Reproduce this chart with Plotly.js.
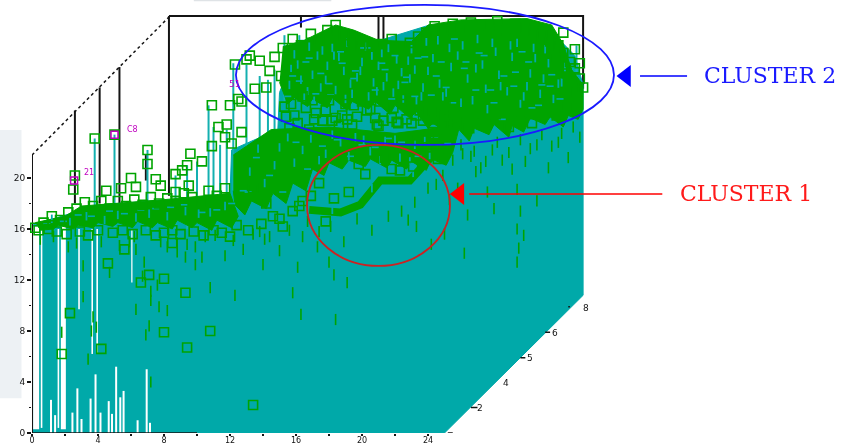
<!DOCTYPE html>
<html><head><meta charset="utf-8">
<script src="https://cdn.plot.ly/plotly-3.0.1.min.js"></script>
<style>html,body{margin:0;padding:0;background:#fff;overflow:hidden}#chart{width:841px;height:446px;filter:blur(0.4px)}</style>
</head><body><div id="chart"></div>
<script>
const xTicks=[0,4,8,12,16,20,24];
const zTicks=[0,4,8,12,16,20];
const minorX=[2,6,10,14,18,22];
const minorZ=[2,6,10,14,18];
const depthLabels=["0","2","4","5","6","8"];
const depthLabelX=[25.76,27.15,28.7,30.2,31.7,33.6];
const depthLabelZ=[-0.08,1.96,3.9,5.9,7.85,9.8];
const depthTickX=[25.2,25.5,null,26.6,27,null,29.6,29.9,null,31.1,31.4,null,32.5,32.6];
const depthTickZ=[0,0,null,2,2,null,5.9,5.9,null,7.9,7.9,null,9.9,9.9];

// teal silhouette of the stems
const massX=[0,25,33.4,33.4,32.9,32,30.2,24.1,21.1,16.2,15,14.9,12.1,12,8.4,4.1,0,0];
const massZ=[0,0,10.8,27.3,29.6,30.8,32,32,30.8,30.8,26.7,23.8,22.2,18.7,18.3,17.9,16.3,0];

// white gaps between stems
const gapSixX=[0.25,0.25];
const gapSixZ=[16.2,0.3];
const gapFiveX=[1.9,1.9];
const gapFiveZ=[16.2,0.3];
const gapThinX=[0.58,0.58,null,1.6,1.6,null,2.85,2.85,null,3.65,3.65,null,3.95,3.95];
const gapThinZ=[16,0.4,null,16,0.4,null,16,9.7,null,16,6.2,null,16,6.2];
const gapPaleX=[6.05,6.05];
const gapPaleZ=[16,11.8];
const spikeX=[1.15,1.15,null,1.4,1.4,null,2.45,2.45,null,2.75,2.75,null,3.0,3.0,null,3.55,3.55,null,3.85,3.85,null,4.15,4.15,null,4.65,4.65,null,4.85,4.85,null,5.1,5.1,null,5.35,5.35,null,5.55,5.55,null,6.4,6.4,null,6.95,6.95,null,7.15,7.15];
const spikeZ=[0,2.6,null,0,1.4,null,0,1.6,null,0,3.5,null,0,1.1,null,0,2.7,null,0,4.6,null,0,1.6,null,0,2.5,null,0,1.5,null,0,5.2,null,0,2.8,null,0,3.3,null,0,1.0,null,0,5.0,null,0,0.8];

// isolated stems reaching above the mass
const stemX=[3.8,5.0,7.0,9.4,8.7,10.7,11.0,11.8,12.2,13.0,13.8,14.3,14.7,15.3,16.2,33.0,11.4,10.0];
const stemTop=[23.1,23.4,22.2,21.0,20.2,25.7,24.0,23.8,29.0,28.9,28.0,27.7,28.5,31.2,31.2,30.4,22.6,21.3];
const stemBase=[16,16,16,16,16,17,17,17,19,22,22,22,22,26,26,27,17,17];

// dense green zones
const denseAX=[15.2,16.5,18.4,19.5,21,23,24,26,30,31.5,32.2,32.7,33.4,33.4,33.1,32.5,32.2,31.4,31.1,30.2,29.8,29.1,28.9,28,27.7,26.8,26.5,25.6,25.2,24.3,24,23.3,22.9,22,21.7,20.8,20.4,19.4,19.1,18.2,17.9,17,16.7,15.9,15.5,15];
const denseAZ=[30.3,30.8,32,31.6,30.8,30.7,32,32.4,32.5,32,30.5,28.5,27.3,25.4,24.6,24.9,24,24.8,24.2,24.7,23.6,24.1,23.2,24.2,23.4,23.9,22.9,24.2,23.5,24.3,23.9,25.2,24.7,25.7,25,26,25.4,26,25.3,26.3,25.5,26.2,25.6,26.3,25.8,27.5];
const denseBX=[12.2,14.5,18,22,25,26,25.5,25.1,24.2,23.9,23,22.7,21.8,21.5,20.5,20.2,19.2,18.8,18,17.7,17,16.6,15.8,15.4,14.6,14.2,13.3,12.9,12.3,12.2];
const denseBZ=[21.8,23.8,24,23.5,24,24.5,22,21,21.5,20.6,21.3,20.7,21.4,20.8,21.5,20.9,21.4,20.7,21.2,20.2,20.7,19,19.6,18,18.8,17.6,18.2,17.1,17.9,19];
const ridgeX=[0.2,2,3,5,8,12,12.5,12.1,11.2,10.9,10,9.7,8.8,8.5,7.6,7.3,6.4,6.1,5.2,4.9,4,3.7,2.8,2.5,1.6,1.3,0.5];
const ridgeZ=[16.5,17,17.8,18,18.3,18.8,17,16.1,16.7,15.9,16.5,16.1,16.7,16,16.5,16.1,16.6,16.1,16.5,16.2,16.5,16.1,16.3,16,16.3,16,15.9];
const curveX=[16.8,18.7,19.9,21.1,22.9,23.8,24.8];
const curveZ=[17.5,17.3,17.9,19.8,19.8,21,22.5];

// teal showing through the dense green
const holeX=[
15.6,16.1,16.7,17.3,17.8,18.2,18.9,19.4,20.0,20.7,
21.2,21.9,22.4,23.0,23.7,24.3,24.9,25.4,26.1,26.7,
27.3,27.9,28.4,29.1,29.6,30.2,30.8,31.3,31.9,32.3,
15.9,16.5,17.0,17.6,18.4,19.1,19.7,20.4,21.0,21.6,
22.2,22.8,23.3,24.0,24.6,25.1,25.8,26.4,27.0,27.6,
28.1,28.8,29.4,30.0,30.5,31.1,31.6,32.1,16.3,17.1,
17.9,18.6,19.3,20.2,20.9,21.5,22.5,23.2,23.9,24.7,
25.3,26.0,26.9,27.5,28.3,29.0,29.8,30.4,31.0,15.7,
16.8,17.5,18.3,19.0,19.9,20.6,21.3,22.1,22.9,23.6,
13.2,14.1,15.0,15.9,16.9,17.8,18.7,19.6,20.5,21.4,
22.3,23.2,24.1,13.7,14.7,15.5,16.4,17.4,18.2,19.2,
20.1,21.1,22.0,22.9,23.8,1.2,3.3,5.2,7.1,9.3,
10.8,11.7,2.3,4.4,6.3,8.2,10.1,18.2,19.4,20.6,
21.7,23.1];
const holeZ=[
27.3,28.9,26.8,29.6,27.7,30.2,28.4,26.6,29.1,27.5,
29.8,26.7,28.3,30.1,27.1,29.4,26.4,28.7,30.4,26.1,
28.9,30.6,27.2,29.5,25.8,28.2,26.6,29.0,27.4,28.7,
29.7,26.3,28.1,30.0,26.9,30.6,27.9,26.4,28.8,30.2,
27.3,29.2,26.1,28.4,30.8,26.7,29.6,27.8,30.9,25.4,
29.9,26.8,30.6,27.2,29.4,30.1,26.2,27.5,27.7,26.2,
28.8,29.5,27.4,30.3,26.8,27.9,26.2,28.5,30.7,27.4,
30.2,25.9,28.6,27.0,28.1,30.4,26.4,30.2,27.8,28.6,
30.3,27.1,29.6,26.2,28.4,29.6,27.2,29.3,27.8,26.4,
20.5,19.6,22.4,21.2,23.1,21.9,22.8,23.2,22.1,22.9,
21.6,22.6,21.8,22.3,21.0,23.2,22.2,21.4,23.4,21.7,
23.0,21.4,23.0,21.3,22.9,16.8,17.0,17.1,17.2,17.4,
17.3,17.8,16.6,16.7,16.9,17.0,17.2,17.5,18.6,19.2,
19.1,20.4];
// small teal flecks in the green
const fleckX=[
15.5,16.2,16.8,17.5,18.1,18.7,19.5,20.1,20.8,21.4,
22.0,22.6,23.2,23.8,24.5,25.1,25.6,26.3,26.9,27.4,
28.0,28.6,29.2,29.7,30.3,30.9,31.5,32.0,15.8,16.6,
17.2,18.0,18.8,19.6,20.3,21.2,21.8,22.7,23.4,24.2,
24.8,25.5,26.2,27.1,27.8,28.5,29.3,30.1,30.7,31.4,
12.8,13.6,14.4,15.2,16.0,16.7,17.6,18.5,19.3,20.0,
20.8,21.6,22.4,23.4,24.4,25.2,0.9,1.9,2.8,3.6,
4.7,5.6,6.6,7.5,8.4,9.2,10.3,11.2,12.1,13.1];
const fleckZ=[
26.4,27.6,29.4,28.2,26.5,29.9,27.8,30.2,26.9,28.5,
29.6,27.5,26.4,29.5,28.0,27.1,30.9,29.1,26.9,29.6,
25.9,28.0,27.2,29.9,25.5,27.3,28.1,26.2,28.0,29.1,
26.6,27.4,29.0,28.4,30.2,29.0,26.2,27.9,29.4,26.5,
29.1,25.9,28.6,29.8,26.9,24.6,28.3,29.1,25.7,27.2,
19.0,21.6,20.2,18.9,22.8,20.7,22.5,23.0,21.7,22.6,
22.4,23.1,22.8,21.7,23.2,22.7,16.4,16.6,17.1,17.0,
17.4,17.2,17.5,17.6,17.7,17.9,17.3,17.5,18.0,18.9];

// green squares: around the clusters and along the ridge
const squareX=[
15.2,15.8,16.3,16.9,17.4,17.9,18.4,18.9,19.4,19.9,
20.6,21.2,21.8,22.3,22.9,23.4,23.9,24.4,24.9,25.5,
26.0,26.6,27.1,27.7,28.2,28.8,29.3,29.9,30.4,30.9,
31.4,31.9,32.2,32.6,32.9,33.2,32.4,31.7,33.4,33.0,
32.2,32.9,33.2,15.7,16.4,17.2,18.0,18.8,19.5,20.3,
21.1,21.8,22.5,23.3,24.2,25.0,25.7,26.5,27.3,28.1,
28.9,29.6,30.3,31.1,31.8,32.5,15.4,17.6,19.1,20.8,
22.1,23.7,25.3,12.3,13.0,12.7,13.8,14.4,14.7,13.2,
12.0,12.5,13.5,14.2,15.1,15.7,11.3,11.8,10.9,11.7,
12.1,12.7,9.4,9.6,8.7,9.1,9.5,10.3,10.9,
0.2,0.7,1.2,1.7,2.2,2.7,3.2,3.7,4.2,4.7,
5.2,5.7,6.2,6.7,7.2,7.7,8.2,8.7,9.2,9.7,
10.2,10.7,11.2,11.7,3.8,5.0,7.0,7.0,2.6,2.5,
6.0,6.3,7.5,7.8,8.7,5.4,4.5,
17.4,18.3,19.2,20.2,21.4,22.3,23.1,24.0,24.6,19.8,
21.8,16.2,16.9,17.8,23.4,24.3,
15.3,15.9,16.6,17.1,17.8,18.4,19.0,19.7,20.5,21.3,
21.9,22.7,23.5,24.3,24.9,25.6,16.1,17.0,18.6,20.0,
20.9,22.4,23.0,24.6,15.6,16.8,18.2,19.4,21.0,22.2,
0.4,1.0,1.5,2.1,2.9,3.4,4.0,4.9,5.5,6.1,
6.9,7.5,8.0,8.5,9.0,9.8,10.4,11.0,11.5,12.0,
12.4,13.1,13.9,14.6,15.2,15.8,16.4,13.4,14.2,15.0];
const squareZ=[
30.2,30.9,30.4,31.3,30.8,31.6,32.0,31.2,30.7,30.4,
30.3,30.5,30.9,30.2,30.6,31.1,31.4,31.9,31.6,32.1,
31.7,32.2,31.8,32.0,32.3,31.6,32.1,31.8,31.5,31.2,
30.7,30.4,29.8,29.1,28.6,27.8,28.2,29.4,27.1,26.8,
31.4,30.1,29.0,25.8,26.4,25.1,26.1,24.9,25.7,25.3,
26.0,24.7,25.8,24.9,25.2,25.0,24.3,23.9,24.4,25.0,
24.0,25.1,24.3,25.1,24.9,25.6,24.8,24.5,24.6,24.7,
24.4,24.5,24.7,28.9,29.3,26.0,29.2,28.4,29.5,29.6,
25.7,26.2,27.0,27.1,28.0,28.6,24.0,24.2,25.7,23.2,
22.7,23.6,21.0,21.9,20.3,20.6,19.4,21.3,22.5,
16.1,16.5,17.0,16.7,17.3,17.6,18.1,17.8,18.2,17.6,
18.2,17.8,18.3,17.9,18.5,18.0,18.4,18.2,18.8,18.5,
18.1,19.0,18.6,19.2,23.1,23.4,22.2,21.1,20.2,19.1,
20.0,19.3,19.9,19.4,18.9,19.2,19.0,
19.6,18.4,18.9,20.3,21.6,20.6,20.9,22.4,21.5,21.1,
20.7,17.8,18.6,16.6,22.9,23.6,
25.6,24.9,25.5,24.6,25.3,24.7,25.8,24.8,25.4,24.5,
25.5,24.6,25.3,24.6,24.2,25.7,24.3,26.1,24.1,26.0,
24.2,26.2,24.3,23.1,23.9,23.8,24.5,24.2,24.1,24.3,
15.9,16.0,15.8,15.6,15.8,15.5,15.9,15.7,15.9,15.6,
15.9,15.5,15.7,15.9,15.6,15.8,15.5,15.9,15.7,15.4,
16.3,15.9,16.4,17.0,16.2,17.4,18.2,19.2,18.0,16.8];

// low, half-hidden green marks beneath the ridge and clusters
const dropX=[
0.5,1.3,1.8,2.2,2.7,3.1,3.6,4.2,4.7,5.3,
5.9,6.3,6.8,7.2,7.7,8.2,8.8,9.4,9.9,10.5,
11.1,11.7,12.2,12.8,13.4,14.0,14.4,15.0,15.6,16.1,
6.7,7.2,7.6,8.2,7.1,6.3,6.9,3.1,3.7,3.9,
3.4,7.2,6.2,7.8,8.8,9.3,9.9,10.3,10.8,12.3,
13.8,14.1,15.8,16.3,16.4,17.3,18.0,18.3,18.4,19.1,
26.0,26.6,27.2,27.9,28.5,29.1,29.4,29.9,30.6,31.3,
31.9,32.5,29.4,29.6,24.5,25.3,25.8,26.4,26.9,27.6,
29.5,29.8,29.4,28.0,30.6,24.2,23.3,22.8,25.0,26.2,
24.0,24.9,25.5,26.1,26.8,27.5,28.2,28.9,29.6,30.2,
30.9,31.5,32.1,32.8,33.2,16.7,17.4,18.1,18.9,19.7,
20.6,21.6,22.4,23.2];
const dropZ=[
15.2,15.4,7.9,14.6,14.9,13.1,8.0,15.0,12.6,14.7,
15.0,14.4,13.4,11.1,9.9,14.6,14.9,14.8,13.2,15.4,
15.5,13.9,15.1,14.4,15.6,13.2,15.4,14.3,15.9,13.0,
12.3,10.4,11.6,9.6,8.4,9.7,7.7,10.7,9.1,8.3,
5.8,4.0,15.4,15.0,14.2,13.8,14.6,13.8,11.4,10.8,
15.8,15.2,11.0,9.3,15.4,14.6,13.4,12.4,8.9,11.8,
22.6,21.7,20.8,22.2,21.4,20.7,19.1,21.3,22.6,20.8,
22.8,21.6,16.0,17.4,19.5,18.3,19.2,17.1,20.5,18.9,
14.5,15.5,13.4,17.6,18.2,14.8,16.2,16.7,15.6,14.1,
19.2,20.2,21.4,21.9,22.1,21.3,22.8,22.0,23.0,22.3,
23.4,22.5,23.5,24.0,23.2,16.6,15.8,16.2,15.0,16.8,
15.9,17.0,17.4,18.1];

// squares that stand alone inside the teal
const loneX=[13.4,9.4,6.6,8.0,4.6,1.8,9.3,8.0,10.8,7.1,8.5,5.6,2.3,4.2];
const loneZ=[2.2,6.7,11.8,12.1,13.3,6.2,11.0,7.9,8.0,12.4,14.9,14.4,9.4,6.6];

// black lines of the box
const frameX=[8.3,33.4,33.4];
const frameZ=[32.7,32.7,27];
const wallX=[2.6,2.6,null,4.1,4.1,null,5.3,5.3,null,6.9,6.9,null,8.3,8.3,null,16.3,16.3,null,21,21,null,21.3,21.3];
const wallZ=[25.3,18,null,27.1,18,null,28.7,18,null,21.8,19.8,null,32.7,18.6,null,32.7,31.8,null,32.7,30.4,null,32.7,30.4];
const slopeX=[0,8.36];
const slopeZ=[21.8,32.7];

const teal='#00a9a9', green='#00a400', black='#141414', magenta='#c000c0';

function lineTrace(x,y,color,width,extra){
  return Object.assign({type:'scatter',mode:'lines',x:x,y:y,line:{color:color,width:width},cliponaxis:false,connectgaps:false,hoverinfo:'skip',showlegend:false},extra||{});
}
function polyTrace(x,y,color){
  return {type:'scatter',mode:'lines',x:x,y:y,fill:'toself',fillcolor:color,line:{color:color,width:1},hoverinfo:'skip',showlegend:false};
}
function markTrace(x,y,symbol,color,size,width){
  return {type:'scatter',mode:'markers',x:x,y:y,cliponaxis:false,hoverinfo:'skip',showlegend:false,
    marker:{symbol:symbol,size:size,color:color,line:{color:color,width:width}}};
}
const stemLineX=[],stemLineZ=[];
stemX.forEach((v,i)=>{stemLineX.push(v,v,null);stemLineZ.push(stemTop[i],stemBase[i],null);});

const data=[
  lineTrace(wallX,wallZ,black,2),
  lineTrace(frameX,frameZ,black,2),
  lineTrace(slopeX,slopeZ,black,1.5,{line:{color:black,width:1.5,dash:'dot'}}),
  polyTrace(massX,massZ,teal),
  lineTrace(gapSixX,gapSixZ,'#ffffff',6),
  lineTrace(gapFiveX,gapFiveZ,'#ffffff',5),
  lineTrace(gapThinX,gapThinZ,'#ffffff',1.6),
  lineTrace(gapPaleX,gapPaleZ,'#c8ecec',1.6),
  lineTrace(spikeX,spikeZ,'#ffffff',2),
  lineTrace(stemLineX,stemLineZ,'#14b0b0',2),
  lineTrace([0,0],[0,21.8],black,2),
  lineTrace([0,10],[0,0],black,1.5),
  lineTrace(depthTickX,depthTickZ,black,1.5),
  polyTrace(denseAX,denseAZ,green),
  polyTrace(denseBX,denseBZ,green),
  polyTrace(ridgeX,ridgeZ,green),
  lineTrace(curveX,curveZ,green,8),
  markTrace(holeX,holeZ,'line-ns',teal,6,1.8),
  markTrace(fleckX,fleckZ,'line-ew',teal,5,1.6),
  markTrace(dropX,dropZ,'line-ns',green,8,1.6),
  markTrace(squareX,squareZ,'square-open',green,9,1.6),
  markTrace(loneX,loneZ,'square-open',green,9,1.6),
  markTrace([2.55,5.0],[19.8,23.4],'square-open',magenta,7,1.5),
  lineTrace([36.85,39.7],[28,28],'#0000ff',1.5),
  markTrace([36.0],[28],'triangle-left','#0000ff',19,0),
  lineTrace([26.5,38.2],[18.75,18.75],'#ff0000',1.5),
  markTrace([25.9],[18.75],'triangle-left','#ff0000',19,0)
];

const depthAnn=depthLabels.map((t,i)=>({x:depthLabelX[i],y:depthLabelZ[i],text:t,showarrow:false,font:{family:'DejaVu Sans',size:9,color:'#111'}}));
function label(x,y,text,color,size,family){return {x:x,y:y,text:text,showarrow:false,font:{family:family,size:size,color:color}};}

const layout={
  width:841,height:446,margin:{l:32,r:0,t:0,b:13,pad:0},
  paper_bgcolor:'#ffffff',plot_bgcolor:'rgba(0,0,0,0)',showlegend:false,
  xaxis:{range:[0,49.03],showgrid:false,zeroline:false,showline:false,tickmode:'array',tickvals:xTicks,ticktext:xTicks.map(String),
    ticks:'outside',ticklen:2,tickcolor:black,tickwidth:1.5,ticklabelstandoff:-3,tickfont:{family:'DejaVu Sans',size:8,color:'#111'},
    minor:{tickmode:'array',tickvals:minorX,ticks:'outside',ticklen:2,tickcolor:black,showgrid:false},automargin:false},
  yaxis:{range:[0,33.96],showgrid:false,zeroline:false,showline:false,tickmode:'array',tickvals:zTicks,ticktext:zTicks.map(String),
    ticks:'outside',ticklen:4,tickcolor:black,tickwidth:1.5,tickfont:{family:'DejaVu Sans',size:9,color:'#111'},
    minor:{tickmode:'array',tickvals:minorZ,ticks:'outside',ticklen:2,tickcolor:black,showgrid:false},automargin:false},
  shapes:[
    {type:'rect',xref:'paper',yref:'paper',x0:-0.04,x1:-0.013,y0:0.08,y1:0.70,fillcolor:'#edf1f4',line:{width:0},layer:'below'},
    {type:'rect',xref:'paper',yref:'paper',x0:0.2,x1:0.37,y0:0.997,y1:1,fillcolor:'#dfe3e6',line:{width:0},layer:'below'},
    {type:'circle',xref:'x',yref:'y',x0:12.36,x1:35.27,y0:22.59,y1:33.57,line:{color:'#1a1aff',width:1.8}},
    {type:'circle',xref:'x',yref:'y',x0:16.67,x1:25.33,y0:13.1,y1:22.59,line:{color:'#cc2222',width:1.8}}
  ],
  annotations:depthAnn.concat([
    label(44.7,28,'CLUSTER 2','#1a1aff',22,'DejaVu Serif'),
    label(43.3,18.75,'CLUSTER 1','#ff1a1a',22,'DejaVu Serif'),
    label(3.45,20.4,'21','#c000c0',8,'DejaVu Sans'),
    label(6.1,23.8,'C8','#c000c0',8,'DejaVu Sans'),
    label(12.3,27.4,'51','#c000c0',9,'DejaVu Sans')
  ])
};
Plotly.newPlot('chart',data,layout,{displayModeBar:false,staticPlot:true});
</script></body></html>
